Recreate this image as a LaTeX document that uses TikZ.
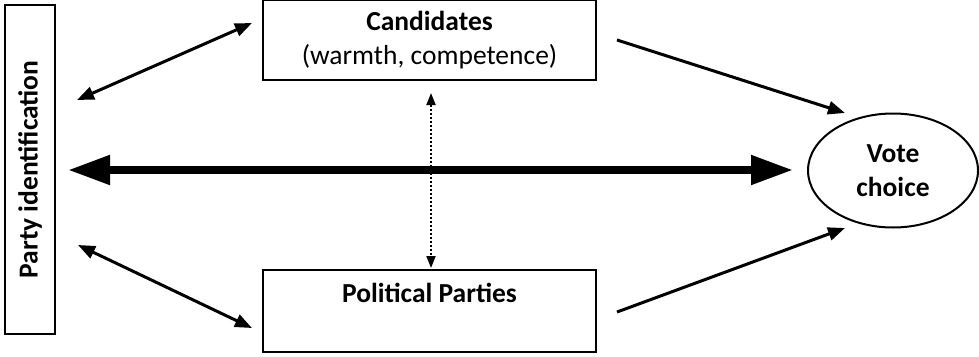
\documentclass[tikz,border=0pt]{standalone}
\usepackage{fontspec}
\setmainfont{Carlito}
\usetikzlibrary{arrows.meta,shapes.geometric}
\begin{document}
\begin{tikzpicture}[x=1pt,y=-1pt,
  boxnode/.style={draw,line width=1.6pt,rectangle,inner sep=0pt,align=center,
    font=\fontsize{27.5}{34}\selectfont},
  thinarrow/.style={line width=3pt,{Triangle[length=17pt,width=13pt]}-{Triangle[length=17pt,width=13pt]}},
  onearrow/.style={line width=3pt,-{Triangle[length=17pt,width=13pt]}},
  thickarrow/.style={line width=8pt,{Triangle[length=42pt,width=28pt]}-{Triangle[length=42pt,width=28pt]}},
  dotarrow/.style={line width=1.8pt,dash pattern=on 2pt off 2pt,{Triangle[length=12pt,width=9pt]}-{Triangle[length=12pt,width=9pt]}}]
\useasboundingbox (0,0) rectangle (979,356);
\node[boxnode,minimum width=50pt,minimum height=329pt] (pid) at (30,169.5) {};
\node[rotate=90,font=\fontsize{27.5}{32}\selectfont\bfseries] (pidtext) at (30,169.5) {Party identification};
\node[boxnode,minimum width=333pt,minimum height=80pt] (cand) at (429.5,40) {\raisebox{-2pt}{\textbf{Candidates}}\\\raisebox{-2pt}{(warmth, competence)}};
\node[boxnode,minimum width=333pt,minimum height=82pt] (pp) at (429.5,311) {\textbf{Political Parties}\\[-8pt]\strut};
\node[draw,line width=2pt,ellipse,minimum width=170pt,minimum height=114pt,inner sep=0pt,align=center,
  font=\fontsize{27.5}{34}\selectfont\bfseries] (vote) at (893,170.5) {Vote\\choice};
\coordinate (ul1) at (77,100);
\coordinate (ul2) at (252,23);
\coordinate (ll1) at (78,245);
\coordinate (ll2) at (252,328);
\coordinate (ur1) at (617,40);
\coordinate (ur2) at (845,113);
\coordinate (lr1) at (617,312);
\coordinate (lr2) at (845,228);
\coordinate (th1) at (68,170);
\coordinate (th2) at (793,170);
\coordinate (dt1) at (431,93);
\coordinate (dt2) at (431,268);
\draw[thinarrow] (ul1) -- (ul2);
\draw[thinarrow] (ll1) -- (ll2);
\draw[onearrow] (ur1) -- (ur2);
\draw[onearrow] (lr1) -- (lr2);
\draw[thickarrow] (th1) -- (th2);
\draw[dotarrow] (dt1) -- (dt2);
\end{tikzpicture}
\end{document}
